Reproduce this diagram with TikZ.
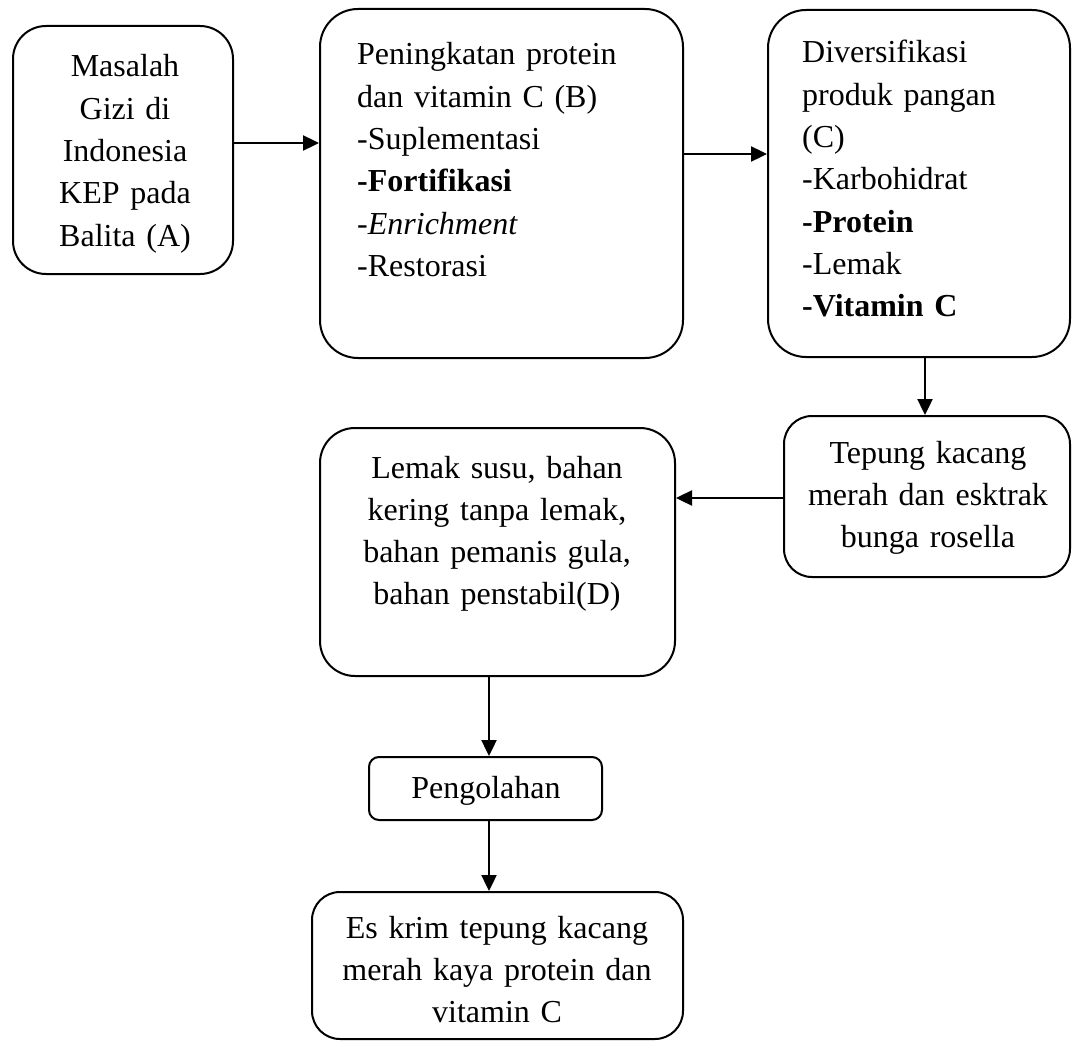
\documentclass[tikz,border=0pt]{standalone}
\usepackage{fontspec}
\setmainfont{Liberation Serif}
\usetikzlibrary{arrows.meta}
\begin{document}
\begin{tikzpicture}[x=1pt,y=-1pt,
  box/.style={draw,line width=2pt,inner sep=0pt},
  txt/.style={inner sep=0pt,font=\fontsize{32}{42.3}\selectfont},
  arr/.style={line width=2.4pt,-{Triangle[length=16pt,width=15pt]}}]
\useasboundingbox (0,0) rectangle (1072,1041);
% boxes
\node[box,rounded corners=33pt,minimum width=220pt,minimum height=248pt] (A) at (123,150) {};
\node[box,rounded corners=38pt,minimum width=363pt,minimum height=349pt] (B) at (501.5,183.5) {};
\node[box,rounded corners=38pt,minimum width=302pt,minimum height=347pt] (C) at (919,183.5) {};
\node[box,rounded corners=28pt,minimum width=286pt,minimum height=161pt] (D) at (927,496.5) {};
\node[box,rounded corners=35pt,minimum width=355pt,minimum height=248pt] (E) at (497.5,552) {};
\node[box,rounded corners=10pt,minimum width=233pt,minimum height=63pt] (F) at (485.5,788.5) {};
\node[box,rounded corners=28pt,minimum width=371pt,minimum height=147pt] (G) at (497.5,965.5) {};
% texts
\node[txt,text width=200pt,align=center,anchor=base] (At) at (125,77)
  {Masalah\\Gizi di\\Indonesia\\KEP pada\\Balita (A)};
\node[txt,text width=320pt,align=left,anchor=base west] (Bt) at (357,65)
  {Peningkatan protein\\dan vitamin C (B)\\-Suplementasi\\\textbf{-Fortifikasi}\\-\textit{Enrichment}\\-Restorasi};
\node[txt,text width=260pt,align=left,anchor=base west] (Ct) at (802,63)
  {Diversifikasi\\produk pangan\\(C)\\-Karbohidrat\\\textbf{-Protein}\\-Lemak\\\textbf{-Vitamin C}};
\node[txt,text width=280pt,align=center,anchor=base] (Dt) at (928,463)
  {Tepung kacang\\merah dan esktrak\\bunga rosella};
\node[txt,text width=340pt,align=center,anchor=base] (Et) at (497,478)
  {Lemak susu, bahan\\kering tanpa lemak,\\bahan pemanis gula,\\bahan penstabil(D)};
\node[txt,text width=220pt,align=center,anchor=base] (Ft) at (486,798)
  {Pengolahan};
\node[txt,text width=360pt,align=center,anchor=base] (Gt) at (497,938)
  {Es krim tepung kacang\\merah kaya protein dan\\vitamin C};
% connectors
\draw[arr] (A.east |- 0,143) -- (B.west |- 0,143);
\draw[arr] (B.east |- 0,154) -- (C.west |- 0,154);
\draw[arr] (C.south -| 925,0) -- (D.north -| 925,0);
\draw[arr] (D.west |- 0,498) -- (E.east |- 0,498);
\draw[arr] (E.south -| 489,0) -- (F.north -| 489,0);
\draw[arr] (F.south -| 489,0) -- (G.north -| 489,0);
\end{tikzpicture}
\end{document}
